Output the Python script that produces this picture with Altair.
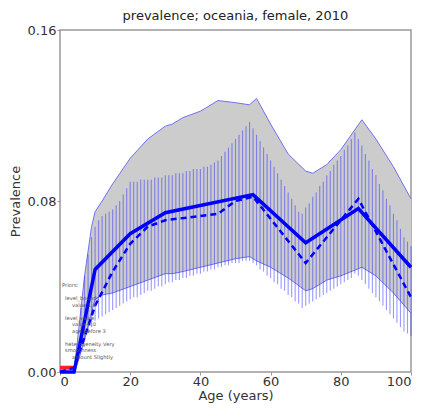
import altair as alt
import pandas as pd

# ---- data ----
band_age = [4, 5, 7, 9, 10, 12, 15, 20, 25, 30, 32, 35, 40, 45, 50, 54, 56, 60, 65, 70, 72, 76, 80, 86, 90, 95, 100]
band_hi = [0.001, 0.015, 0.045, 0.068, 0.075, 0.080, 0.088, 0.100, 0.109, 0.115, 0.116, 0.119, 0.122, 0.127, 0.126, 0.125, 0.128,
           0.116, 0.102, 0.094, 0.093, 0.097, 0.104, 0.118, 0.109, 0.096, 0.081]
band_lo = [0.000, 0.004, 0.015, 0.028, 0.034, 0.036, 0.037, 0.040, 0.043, 0.046, 0.046, 0.047, 0.049, 0.051, 0.053, 0.054, 0.052,
           0.049, 0.044, 0.038, 0.039, 0.043, 0.045, 0.049, 0.045, 0.037, 0.0275]

bar_age = list(range(6, 101))
bar_hi = [0.030, 0.045, 0.055, 0.063, 0.068, 0.071, 0.073, 0.074, 0.075, 0.076,
          0.078, 0.080, 0.083, 0.086, 0.089, 0.089, 0.089, 0.090, 0.090, 0.090,
          0.090, 0.091, 0.091, 0.091, 0.092, 0.092, 0.092, 0.093, 0.093, 0.093,
          0.094, 0.094, 0.095, 0.095, 0.095, 0.096, 0.096, 0.097, 0.098, 0.099,
          0.101, 0.103, 0.105, 0.107, 0.109, 0.111, 0.113, 0.115, 0.117, 0.114,
          0.111, 0.108, 0.105, 0.102, 0.099, 0.096, 0.093, 0.090, 0.087, 0.084,
          0.081, 0.078, 0.075, 0.074, 0.077, 0.079, 0.082, 0.084, 0.087, 0.089,
          0.092, 0.094, 0.097, 0.099, 0.101, 0.104, 0.106, 0.109, 0.112, 0.109,
          0.106, 0.102, 0.099, 0.095, 0.092, 0.088, 0.085, 0.081, 0.078, 0.074,
          0.071, 0.067, 0.063, 0.061, 0.059]
bar_lo = [0.012, 0.015, 0.018, 0.021, 0.024, 0.025, 0.026, 0.027, 0.028, 0.029,
          0.030, 0.031, 0.032, 0.033, 0.034, 0.035, 0.035, 0.036, 0.037, 0.038,
          0.038, 0.039, 0.040, 0.040, 0.041, 0.042, 0.042, 0.043, 0.043, 0.044,
          0.044, 0.045, 0.045, 0.046, 0.046, 0.047, 0.047, 0.048, 0.048, 0.049,
          0.049, 0.050, 0.050, 0.051, 0.051, 0.051, 0.052, 0.052, 0.052, 0.051,
          0.050, 0.048, 0.047, 0.045, 0.044, 0.042, 0.041, 0.039, 0.038, 0.036,
          0.035, 0.033, 0.032, 0.030, 0.031, 0.032, 0.033, 0.034, 0.035, 0.036,
          0.037, 0.038, 0.039, 0.040, 0.041, 0.042, 0.043, 0.044, 0.046, 0.045,
          0.043, 0.041, 0.039, 0.037, 0.035, 0.033, 0.031, 0.029, 0.027, 0.025,
          0.023, 0.021, 0.019, 0.018, 0.017]

mean_age = [0, 4, 10, 20, 30, 55, 70, 85, 100]
mean_val = [0.0, 0.0, 0.048, 0.0647, 0.0745, 0.083, 0.0605, 0.0765, 0.049]

dash_age = [0, 4, 10, 15, 20, 25, 30, 45, 50, 55, 70, 85, 100]
dash_val = [0.0, 0.002, 0.031, 0.047, 0.060, 0.068, 0.071, 0.074, 0.080, 0.082, 0.051, 0.081, 0.035]

prior_age = [0, 4]
prior_val = [0.002, 0.002]

# prior notes: (text, indent level); "" is a blank line
note_lines = [("Priors:", 0), ("", 0),
              ("level_bounds", 1), ("value 1.0", 2), ("", 0),
              ("level_value", 1), ("value 0.0", 2), ("age_before 3", 2), ("", 0),
              ("heterogeneity Very", 1), ("smoothness", 1), ("amount Slightly", 2)]

# ---- tables ----
band = pd.DataFrame({"age": band_age, "hi": band_hi, "lo": band_lo})
bars = pd.DataFrame({"age": bar_age, "hi": bar_hi, "lo": bar_lo})
mean = pd.DataFrame({"age": mean_age, "val": mean_val})
dash = pd.DataFrame({"age": dash_age, "val": dash_val})
prior = pd.DataFrame({"age": prior_age, "val": prior_val})

xs = alt.Scale(domain=[0, 100], nice=False)
ys = alt.Scale(domain=[0, 0.16], nice=False)
X = alt.X("age:Q", scale=xs, title="Age (years)",
          axis=alt.Axis(values=[0, 20, 40, 60, 80, 100], format="d"))
Y_axis = alt.Axis(values=[0, 0.08, 0.16], format=".2f")

area = alt.Chart(band).mark_area(color="#cccccc", opacity=1).encode(
    x=X, y=alt.Y("hi:Q", scale=ys, title="Prevalence", axis=Y_axis), y2="lo:Q")
up_line = alt.Chart(band).mark_line(color="#7070f0", strokeWidth=1).encode(
    x="age:Q", y="hi:Q")
lo_line = alt.Chart(band).mark_line(color="#7070f0", strokeWidth=1).encode(
    x="age:Q", y="lo:Q")
rules = alt.Chart(bars).mark_rule(color="#2a2aff", opacity=0.48, strokeWidth=1.1).encode(
    x="age:Q", y="lo:Q", y2="hi:Q")
red = alt.Chart(prior).mark_line(color="#ff2020", strokeWidth=4).encode(
    x="age:Q", y="val:Q")
dashed = alt.Chart(dash).mark_line(color="#0000ff", strokeWidth=2.5, strokeDash=[6, 4]).encode(
    x="age:Q", y="val:Q")
solid = alt.Chart(mean).mark_line(color="#0000ff", strokeWidth=3.5).encode(
    x="age:Q", y="val:Q")

# annotation layers (pixel layout inside the plot area)
INDENT = [2, 5, 12]
notes = []
for i, (txt, lvl) in enumerate(note_lines):
    if not txt:
        continue
    notes.append(alt.Chart(pd.DataFrame({"t": [txt]})).mark_text(
        align="left", baseline="middle", fontSize=5.2, color="#555555",
        font="DejaVu Sans").encode(
        text="t:N", x=alt.value(INDENT[lvl]), y=alt.value(255 + 6.5 * i)))

chart = alt.layer(area, up_line, lo_line, rules, red, dashed, solid, *notes).properties(
    width=351, height=342,
    autosize=alt.AutoSizeParams(type="none"),
    padding={"left": 60, "top": 30, "right": 14, "bottom": 36},
    title=alt.TitleParams("prevalence; oceania, female, 2010", fontSize=13,
                          font="DejaVu Sans", fontWeight="normal", color="#222222",
                          offset=1, anchor="middle"),
).configure_view(stroke="#999999", strokeWidth=1.5).configure_axis(
    grid=False, domain=False, tickColor="#999999", tickSize=3,
    labelFont="DejaVu Sans", labelFontSize=13, labelColor="#333333",
    titleFont="DejaVu Sans", titleFontSize=13, titleFontWeight="normal", titleColor="#333333",
).configure_axisX(labelPadding=0, titlePadding=1).configure_axisY(labelPadding=1, titlePadding=5)

chart.save("out.html", embed_options={"renderer": "svg", "actions": False})
